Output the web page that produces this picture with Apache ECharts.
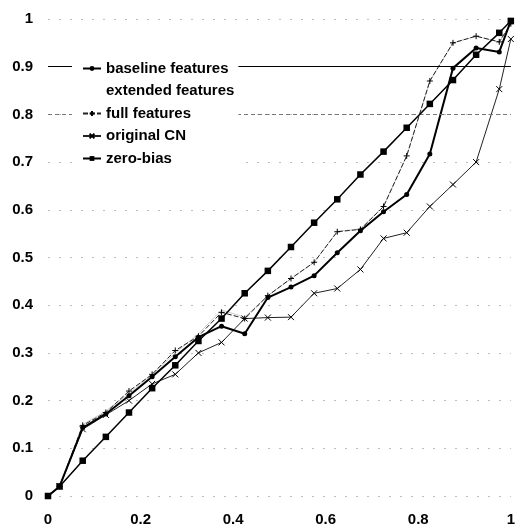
<!DOCTYPE html>
<html>
<head>
<meta charset="utf-8">
<script src="https://cdn.jsdelivr.net/npm/echarts@6/dist/echarts.min.js"></script>
<style>
html,body{margin:0;padding:0;background:#fff;}
#chart{width:518px;height:527px;}
</style>
</head>
<body>
<div id="chart"></div>
<script>
var xValues = [0, 0.025, 0.075, 0.125, 0.175, 0.225, 0.275, 0.325, 0.375, 0.425, 0.475, 0.525, 0.575, 0.625, 0.675, 0.725, 0.775, 0.825, 0.875, 0.925, 0.975, 1.0];
var baselineFeatures = [0, 0.02, 0.143, 0.172, 0.21, 0.25, 0.292, 0.333, 0.356, 0.34, 0.416, 0.438, 0.462, 0.51, 0.556, 0.596, 0.632, 0.717, 0.897, 0.939, 0.931, 0.996];
var extendedFeatures = [0, 0.02, 0.15, 0.178, 0.215, 0.255, 0.3, 0.34, 0.39, 0.375, 0.42, 0.455, 0.49, 0.555, 0.56, 0.607, 0.713, 0.87, 0.95, 0.964, 0.952, 0.99];
var fullFeatures = [0, 0.02, 0.148, 0.175, 0.22, 0.255, 0.305, 0.335, 0.385, 0.372, 0.42, 0.456, 0.49, 0.554, 0.559, 0.607, 0.713, 0.87, 0.95, 0.964, 0.952, 0.99];
var originalCN = [0, 0.02, 0.14, 0.17, 0.2, 0.235, 0.255, 0.3, 0.322, 0.372, 0.374, 0.375, 0.425, 0.435, 0.475, 0.54, 0.552, 0.607, 0.653, 0.70, 0.853, 0.958];
var zeroBias = [0, 0.02, 0.074, 0.124, 0.175, 0.226, 0.274, 0.325, 0.372, 0.425, 0.472, 0.522, 0.573, 0.622, 0.674, 0.722, 0.772, 0.822, 0.872, 0.925, 0.971, 0.996];
var seriesNames = ['baseline features', 'extended features', 'full features', 'original CN', 'zero-bias'];
var refLines = [0.9, 0.8];

function pairs(ys) { return xValues.map(function (x, i) { return [x, ys[i]]; }); }

var FONT = '"Liberation Sans", Arial, sans-serif';
var chart = echarts.init(document.getElementById('chart'), null, {renderer: 'canvas'});
var xSym = 'path://M0,0L10,10M10,0L0,10';
var plusSym = 'path://M5,0L5,10M0,5L10,5';

chart.setOption({
  animation: false,
  backgroundColor: '#fff',
  grid: {left: 48, right: 6, top: 19, bottom: 30},
  legend: {
    orient: 'vertical', left: 72, top: 57, z: 10,
    backgroundColor: '#fff',
    padding: [4, 4, 4, 10],
    itemWidth: 18, itemHeight: 6, itemGap: 7.5,
    textStyle: {fontFamily: FONT, fontWeight: 'bold', fontSize: 15, color: '#000'},
    data: [
      {name: seriesNames[0]},
      {name: seriesNames[1], icon: 'none'},
      {name: seriesNames[2]},
      {name: seriesNames[3]},
      {name: seriesNames[4]}
    ]
  },
  xAxis: {
    type: 'value', min: 0, max: 1, interval: 0.2,
    axisLine: {show: false}, axisTick: {show: false}, splitLine: {show: false},
    axisLabel: {fontFamily: FONT, fontWeight: 'bold', fontSize: 15, color: '#000', margin: 16}
  },
  yAxis: {
    type: 'value', min: 0, max: 1, interval: 0.1,
    axisLine: {show: false}, axisTick: {show: false},
    splitLine: {show: true, lineStyle: {color: '#bbb', width: 1, type: [2, 9]}},
    axisLabel: {fontFamily: FONT, fontWeight: 'bold', fontSize: 15, color: '#000', margin: 15}
  },
  series: [
    {
      name: seriesNames[1], type: 'line', data: pairs(extendedFeatures), z: 1,
      symbol: 'none', lineStyle: {color: '#ccc', width: 1}, itemStyle: {color: '#ccc'},
      markLine: {
        silent: true, symbol: 'none', label: {show: false},
        data: [
          {yAxis: refLines[0], lineStyle: {color: '#000', width: 1.2, type: 'solid'}},
          {yAxis: refLines[1], lineStyle: {color: '#777', width: 1, type: [4, 3]}}
        ]
      }
    },
    {
      name: seriesNames[0], type: 'line', data: pairs(baselineFeatures), z: 4,
      symbol: 'circle', symbolSize: 5,
      lineStyle: {color: '#000', width: 2}, itemStyle: {color: '#000'}
    },
    {
      name: seriesNames[2], type: 'line', data: pairs(fullFeatures), z: 3,
      symbol: plusSym, symbolSize: 6,
      lineStyle: {color: '#222', width: 1, type: [5, 2]},
      itemStyle: {color: '#000', borderColor: '#000', borderWidth: 1}
    },
    {
      name: seriesNames[3], type: 'line', data: pairs(originalCN), z: 3,
      symbol: xSym, symbolSize: 6,
      lineStyle: {color: '#222', width: 1},
      itemStyle: {color: '#000', borderColor: '#000', borderWidth: 1}
    },
    {
      name: seriesNames[4], type: 'line', data: pairs(zeroBias), z: 5,
      symbol: 'rect', symbolSize: 6.5,
      lineStyle: {color: '#000', width: 1.5}, itemStyle: {color: '#000'}
    }
  ]
});
</script>
</body>
</html>
